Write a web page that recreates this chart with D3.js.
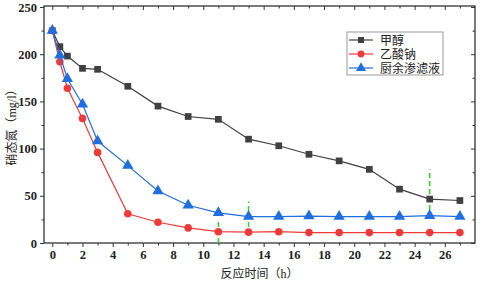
<!DOCTYPE html>
<html><head><meta charset="utf-8">
<script src="https://cdn.jsdelivr.net/npm/d3@7/dist/d3.min.js"></script>
<style>body{margin:0;background:#fff}svg{display:block}</style>
</head><body>
<svg id="c" width="486" height="283"></svg>
<script>
const times = [0, 0.5, 1, 2, 3, 5, 7, 9, 11, 13, 15, 17, 19, 21, 23, 25, 27];
const seriesNames = ["甲醇", "乙酸钠", "厨余渗滤液"];
const methanol = [225, 208, 198, 185, 184, 166, 145, 134, 131, 110, 103, 94, 87, 78, 57, 46.5, 45];
const acetate = [225, 192, 164, 132, 96, 31, 22, 16, 12, 11.5, 12, 11, 11, 11, 11, 11, 11];
const leachate = [225, 199, 174, 147, 108, 82, 55, 40, 32, 28, 28, 28.5, 28, 28, 28, 29, 28];
const xTicks = [0, 2, 4, 6, 8, 10, 12, 14, 16, 18, 20, 22, 24, 26];
const yTicks = [0, 50, 100, 150, 200, 250];
const markers = [{x: 11, y0: 0, y1: 25}, {x: 13, y0: 17, y1: 44}, {x: 25, y0: 35, y1: 78}];
const xLabel = "反应时间（h）";
const yLabel = "硝态氮（mg/l）";

const colors = ["#404040", "#f03a3a", "#1f6fe0"];
const symbols = [d3.symbolSquare, d3.symbolCircle, d3.symbolTriangle];
const symSizes = [45, 45, 55];
const allSeries = [methanol, acetate, leachate];

const svg = d3.select("#c");
const L = 44, R = 475, T = 6, B = 243;
const x = d3.scaleLinear().domain([-0.55, 28]).range([L, R]);
const y = d3.scaleLinear().domain([0, 250]).range([B, T + 1]);
const tickFont = "'Liberation Serif', 'Times New Roman', serif";
const cjk = "'Liberation Serif', 'Noto Sans CJK SC', sans-serif";

// frame
svg.append("rect").attr("x", L).attr("y", T).attr("width", R - L).attr("height", B - T)
  .attr("fill", "none").attr("stroke", "#333").attr("stroke-width", 1.3);

const xMinor = d3.range(1, 28, 2);
const yMinor = d3.range(25, 250, 50);

// bottom axis
const gx = svg.append("g").attr("transform", `translate(0,${B})`)
  .call(d3.axisBottom(x).tickValues(xTicks).tickSize(4).tickPadding(3));
gx.select(".domain").remove();
gx.selectAll("text").attr("font-family", tickFont).attr("font-size", 12.5).attr("font-weight", "bold").attr("fill", "#222");
gx.selectAll("line").attr("stroke", "#333");
svg.append("g").attr("transform", `translate(0,${B})`)
  .call(d3.axisBottom(x).tickValues(xMinor).tickSize(2.5).tickFormat(""))
  .call(g => { g.select(".domain").remove(); g.selectAll("line").attr("stroke", "#333"); });
// top axis inward
svg.append("g").attr("transform", `translate(0,${T})`)
  .call(d3.axisBottom(x).tickValues(xTicks).tickSize(4).tickFormat(""))
  .call(g => { g.select(".domain").remove(); g.selectAll("line").attr("stroke", "#333"); });
svg.append("g").attr("transform", `translate(0,${T})`)
  .call(d3.axisBottom(x).tickValues(xMinor).tickSize(2.5).tickFormat(""))
  .call(g => { g.select(".domain").remove(); g.selectAll("line").attr("stroke", "#333"); });

// left axis
const gy = svg.append("g").attr("transform", `translate(${L},0)`)
  .call(d3.axisLeft(y).tickValues(yTicks).tickSize(4).tickPadding(3));
gy.select(".domain").remove();
gy.selectAll("text").attr("font-family", tickFont).attr("font-size", 12.5).attr("font-weight", "bold").attr("fill", "#222");
gy.selectAll("line").attr("stroke", "#333");
svg.append("g").attr("transform", `translate(${L},0)`)
  .call(d3.axisLeft(y).tickValues(yMinor).tickSize(2.5).tickFormat(""))
  .call(g => { g.select(".domain").remove(); g.selectAll("line").attr("stroke", "#333"); });
// right axis inward
svg.append("g").attr("transform", `translate(${R},0)`)
  .call(d3.axisLeft(y).tickValues(yTicks).tickSize(4).tickFormat(""))
  .call(g => { g.select(".domain").remove(); g.selectAll("line").attr("stroke", "#333"); });
svg.append("g").attr("transform", `translate(${R},0)`)
  .call(d3.axisLeft(y).tickValues(yMinor).tickSize(2.5).tickFormat(""))
  .call(g => { g.select(".domain").remove(); g.selectAll("line").attr("stroke", "#333"); });

// green dashed markers
svg.append("g").selectAll("line").data(markers).join("line")
  .attr("x1", d => x(d.x)).attr("x2", d => x(d.x))
  .attr("y1", d => y(d.y0)).attr("y2", d => y(d.y1))
  .attr("stroke", "#22dd22").attr("stroke-width", 1.5).attr("stroke-dasharray", "5,3");

// series
const line = d3.line().x((d, i) => x(times[i])).y(d => y(d));
allSeries.forEach((vals, k) => {
  svg.append("path").datum(vals).attr("d", line)
    .attr("fill", "none").attr("stroke", colors[k]).attr("stroke-width", 1.2);
  svg.append("g").selectAll("path").data(vals).join("path")
    .attr("transform", (d, i) => `translate(${x(times[i])},${y(d)})`)
    .attr("d", d3.symbol().type(symbols[k]).size(symSizes[k]))
    .attr("fill", colors[k]);
});

// legend
const lg = svg.append("g").attr("transform", "translate(347,32)");
lg.append("rect").attr("width", 96).attr("height", 43).attr("fill", "#fff").attr("stroke", "#999").attr("stroke-width", 1);
seriesNames.forEach((n, k) => {
  const yy = 8 + k * 14;
  lg.append("line").attr("x1", 2).attr("x2", 26).attr("y1", yy).attr("y2", yy).attr("stroke", colors[k]).attr("stroke-width", 1.2);
  lg.append("path").attr("transform", `translate(14,${yy})`).attr("d", d3.symbol().type(symbols[k]).size(symSizes[k] * 0.8)).attr("fill", colors[k]);
  lg.append("text").attr("x", 33).attr("y", yy + 4.5).text(n)
    .attr("font-family", cjk).attr("font-size", 12).attr("fill", "#222");
});

// axis labels
svg.append("text").attr("x", (L + R) / 2).attr("y", 278).attr("text-anchor", "middle")
  .attr("font-family", cjk).attr("font-size", 12).attr("fill", "#222").text(xLabel);
svg.append("text").attr("transform", `translate(16,${(T + B) / 2}) rotate(-90)`).attr("text-anchor", "middle")
  .attr("font-family", cjk).attr("font-size", 12).attr("fill", "#222").text(yLabel);
</script>
</body></html>
